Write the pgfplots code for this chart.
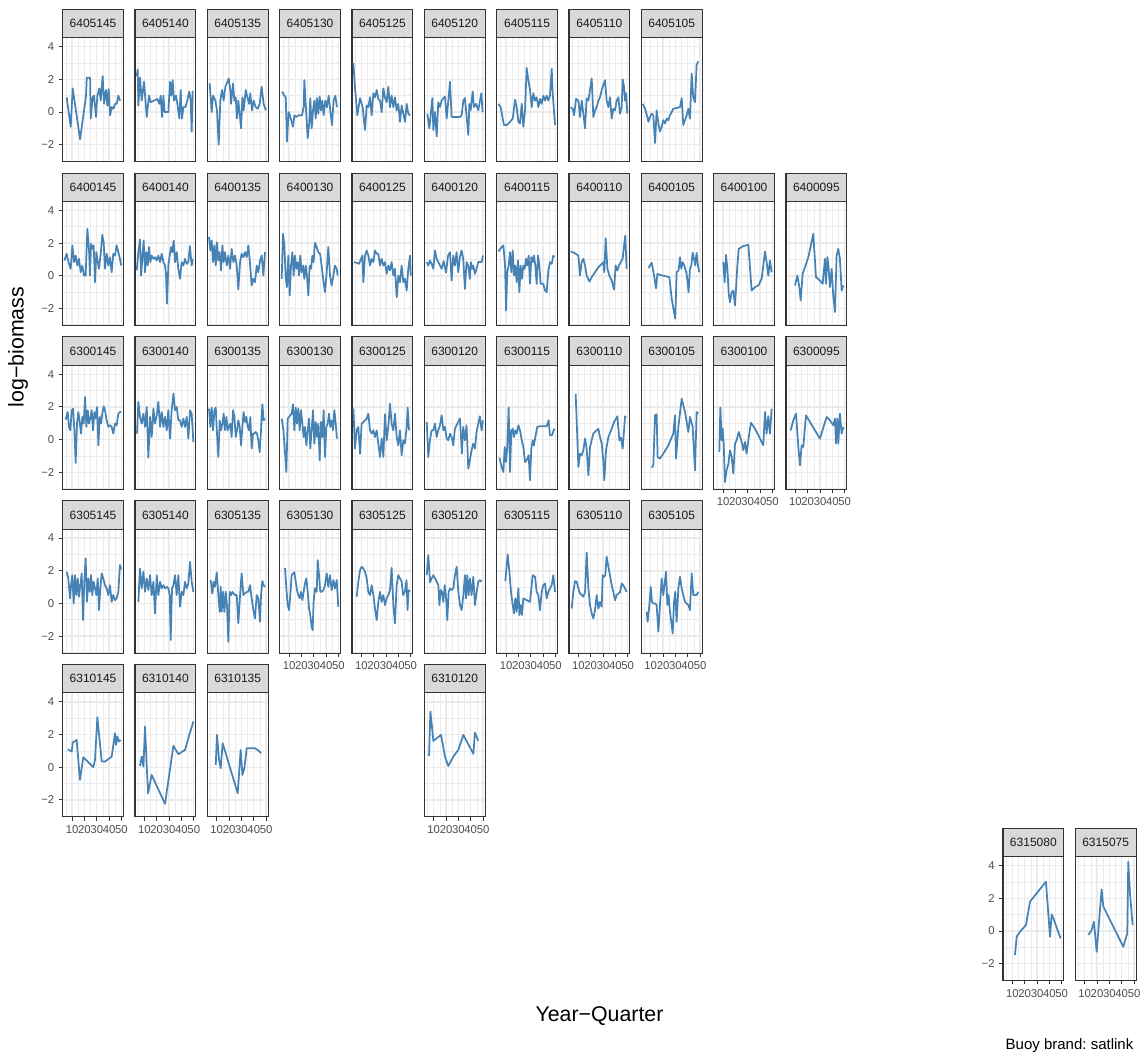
\documentclass[border=0pt]{standalone}
\usepackage{fontspec}
\setmainfont{Liberation Sans}
\usepackage{pgfplots}
\pgfplotsset{compat=1.18}
\frenchspacing
\definecolor{grey10}{HTML}{1A1A1A}
\definecolor{grey20}{HTML}{333333}
\definecolor{grey30}{HTML}{4D4D4D}
\definecolor{grey85}{HTML}{D9D9D9}
\definecolor{grey92}{HTML}{EBEBEB}
\definecolor{steelblue}{HTML}{4682B4}
\newcommand{\tlfont}{\fontsize{8.5}{9}\selectfont}
\newcommand{\stfont}{\fontsize{9}{10}\selectfont}
\pgfplotsset{
 fpanel/.style={
  width=45.525pt, height=93pt, scale only axis, anchor=north west,
  xmin=2.4, xmax=51.6, ymin=-3.04, ymax=4.55,
  xtick={10,20,30,40,50}, ytick={-2,0,2,4},
  minor xtick={5,15,25,35,45}, minor ytick={-3,-1,1,3},
  grid=both,
  major grid style={draw=grey92, line width=1.1pt},
  minor grid style={draw=grey92, line width=0.55pt},
  axis line style={draw=grey20, line width=0.8pt},
  tick align=outside, tick pos=left,
  major tick length=2.8pt, minor tick length=0pt,
  tick style={draw=grey20, line width=0.8pt},
  xticklabels={}, yticklabels={},
  xmajorticks=false, ymajorticks=false,
  tick label style={font=\tlfont, text=grey30},
 },
 showx/.style={xticklabels={10,20,30,40,50}, xmajorticks=true},
 showy/.style={yticklabels={−2,0,2,4}, ymajorticks=true},
}
\newcommand{\panel}[5]{%
 \pgfmathsetmacro{\pX}{(62.7+(#1-1)*72.33)*0.75}%
 \pgfmathsetmacro{\pY}{-(37.7+(#2-1)*163.8)*0.75}%
 \begin{axis}[fpanel, at={(\pX pt,\pY pt)}, #4,
   extra description/.code={%
     \draw[fill=grey85,draw=grey20,line width=0.8pt] (axis description cs:0,1) rectangle ([yshift=21.3pt]axis description cs:1,1);
     \node[font=\stfont,text=grey10] at ([yshift=10.65pt]axis description cs:0.5,1) {#3};}]
 \addplot[steelblue,line width=1.3pt,line join=round,mark=none] coordinates {#5};
 \end{axis}}
\begin{document}
\begin{tikzpicture}
\useasboundingbox (0,0) rectangle (858.75pt,-792pt);
% Row 1
\panel{1}{1}{6405145}{showy}{(5.6,0.9)(8.9,-0.9)(10.5,1.45)(16.5,-1.67)(21.3,1.0)(21.9,2.1)(24.6,2.1)(25.1,-0.4)(26.7,0.9)(27.8,1.0)(29.4,-0.3)(30.5,1.0)(32.1,1.45)(33.2,0.7)(34.8,2.2)(35.9,0.5)(37.5,1.35)(38.6,0.4)(39.7,1.4)(40.8,-0.2)(42.1,0.3)(43.5,0.2)(44.8,0.5)(46.2,0.5)(47.5,1.0)(48.9,0.7)}
\panel{2}{1}{6405140}{}{(3.75,2.2)(4.6,2.6)(5.1,0.4)(6.5,2.1)(7.8,0.7)(9.7,1.85)(11.9,-0.3)(13.7,1.0)(15.1,0.6)(17.8,0.7)(20.5,0.8)(22.1,0.5)(23.2,1.0)(24.3,-0.3)(25.4,1.0)(26.4,0.0)(28.1,0.0)(29.4,0.0)(30.8,1.85)(31.8,1.0)(32.9,1.95)(34.0,0.7)(35.6,1.0)(36.7,0.5)(38.3,-0.4)(39.4,1.35)(40.5,-0.4)(41.6,0.3)(43.2,0.3)(44.8,0.7)(46.4,1.25)(47.5,0.7)(48.3,-1.2)(49.1,1.3)}
\panel{3}{1}{6405135}{}{(4.3,1.75)(5.9,0.0)(7.0,1.0)(8.9,0.7)(10.2,0.1)(11.6,-2.0)(12.9,0.7)(14.3,1.35)(15.6,0.7)(17.0,1.55)(19.7,2.05)(21.0,1.35)(21.6,0.5)(23.2,1.75)(24.3,0.7)(25.4,0.9)(26.4,-0.4)(27.5,0.7)(28.6,-0.1)(29.7,-1.0)(30.8,0.9)(31.8,0.1)(33.5,1.35)(34.5,1.0)(36.2,0.5)(37.2,1.15)(38.6,0.1)(39.9,0.7)(41.6,0.3)(43.2,0.2)(44.8,0.5)(46.4,1.55)(48.0,0.5)(49.8,0.1)}
\panel{4}{1}{6405130}{}{(4.3,1.25)(6.2,1.0)(7.3,0.9)(8.3,-1.8)(9.7,0.0)(11.0,-0.3)(13.2,-0.9)(14.3,-0.2)(15.9,-0.3)(17.8,-0.2)(20.5,-0.2)(21.8,0.3)(22.4,1.95)(24.0,-0.2)(25.1,-1.6)(26.2,-0.8)(27.2,0.85)(28.3,-1.0)(29.4,0.1)(30.5,0.7)(31.6,-0.4)(32.6,0.85)(33.7,-0.1)(34.8,0.95)(35.9,0.1)(37.0,0.7)(38.0,-0.2)(39.4,0.7)(40.7,0.3)(42.1,1.0)(43.4,0.1)(44.8,-0.8)(46.1,0.7)(47.5,1.0)(48.8,0.3)}
\panel{5}{1}{6405125}{}{(3.5,3.0)(4.8,1.5)(6.7,-0.2)(8.9,0.85)(11.0,0.3)(12.9,-1.1)(14.3,0.4)(15.6,0.3)(17.0,0.9)(18.3,-0.2)(19.7,1.15)(21.0,0.9)(22.4,1.35)(23.7,0.8)(25.1,0.7)(26.4,0.0)(27.8,1.45)(29.1,0.9)(30.5,0.6)(31.8,1.55)(33.2,0.3)(34.5,1.0)(35.9,0.3)(37.2,0.9)(38.6,0.1)(39.9,0.5)(41.3,-0.6)(42.6,0.4)(44.0,-0.1)(45.3,-0.6)(46.7,0.5)(48.0,-0.1)(49.4,-0.2)}
\panel{6}{1}{6405120}{}{(4.8,-0.1)(6.5,-1.0)(7.5,-0.2)(8.9,0.85)(9.7,-1.1)(11.0,0.0)(12.4,-1.5)(13.7,0.6)(15.1,0.3)(16.4,0.7)(17.8,0.85)(19.1,0.95)(20.5,-0.4)(23.2,1.85)(24.5,-0.3)(27.2,-0.3)(31.3,-0.3)(32.6,-0.2)(34.0,0.7)(35.3,0.85)(36.7,-0.3)(38.0,-1.4)(38.9,0.5)(39.9,0.1)(41.6,1.25)(42.6,0.3)(44.3,0.5)(46.1,0.1)(47.5,0.7)(48.6,1.15)(49.6,0.0)}
\panel{7}{1}{6405115}{}{(3.8,0.5)(5.6,0.3)(7.3,-0.4)(8.3,-0.8)(10.5,-0.8)(13.2,-0.6)(15.4,-0.4)(17.3,0.75)(18.6,0.3)(20.0,-0.6)(21.3,-0.7)(22.7,0.5)(24.0,-0.9)(25.4,0.1)(26.7,2.7)(28.1,1.95)(29.4,1.35)(30.8,0.3)(32.1,1.15)(33.5,0.7)(34.8,0.9)(36.2,0.3)(37.5,0.8)(38.9,0.5)(40.2,1.0)(41.6,0.7)(42.9,1.0)(44.3,0.7)(45.6,1.0)(47.0,2.65)(47.8,1.15)(48.8,0.1)(49.7,-0.8)}
\panel{8}{1}{6405110}{}{(3.8,0.3)(5.4,0.2)(6.5,-0.2)(8.1,0.8)(10.0,0.7)(11.3,-0.3)(12.7,0.7)(14.0,-0.1)(15.4,-1.0)(16.7,0.85)(18.1,0.7)(19.4,1.35)(20.8,2.05)(22.1,-0.3)(23.5,0.1)(24.8,0.3)(26.2,0.7)(27.5,0.9)(28.9,1.35)(31.6,1.95)(32.9,0.7)(34.3,0.3)(35.6,0.9)(37.0,-0.4)(38.3,0.2)(39.7,0.1)(41.0,0.7)(42.4,0.9)(43.7,-0.1)(45.1,0.3)(45.9,2.0)(47.0,1.55)(47.8,0.7)(48.6,1.15)(49.7,-0.1)}
\panel{9}{1}{6405105}{}{(3.5,0.5)(5.4,0.2)(7.3,-0.3)(8.1,-0.6)(9.4,-0.3)(10.8,-0.1)(12.1,-0.2)(13.5,-1.9)(14.8,0.1)(16.2,-0.7)(17.5,-1.2)(18.9,-0.9)(20.2,-0.5)(21.6,-0.7)(22.9,-0.4)(24.3,-0.5)(25.6,-0.2)(28.3,0.2)(33.7,0.3)(35.1,0.85)(36.4,-0.8)(37.8,-0.5)(39.1,-0.2)(40.5,0.2)(41.8,-0.4)(43.2,2.35)(44.5,0.9)(45.9,0.6)(47.2,2.9)(48.6,3.1)}
% Row 2
\panel{1}{2}{6400145}{showy}{(3.75,0.94)(5.6,1.35)(7.5,0.73)(8.9,0.43)(10.2,1.86)(11.6,0.84)(12.9,1.24)(14.3,0.63)(15.6,1.04)(17.0,0.22)(18.3,0.63)(19.7,0.02)(21.0,0.02)(22.4,2.88)(23.7,1.65)(24.5,0.02)(25.4,1.96)(26.4,1.65)(27.5,1.86)(28.6,-0.39)(29.7,1.45)(30.8,0.84)(31.8,0.43)(33.2,1.35)(34.5,2.51)(35.6,2.06)(36.7,0.43)(38.0,1.35)(39.4,0.63)(40.7,1.14)(42.1,0.22)(43.4,1.35)(44.8,1.24)(46.1,1.86)(47.5,1.45)(48.8,1.04)(49.8,0.63)}
\panel{2}{2}{6400140}{}{(3.75,0.33)(5.1,1.45)(6.45,2.22)(7.3,0.02)(8.3,1.04)(9.4,2.16)(10.5,0.22)(11.6,1.45)(12.7,0.63)(13.7,1.76)(14.8,0.84)(15.9,1.24)(17.3,1.04)(18.6,1.14)(20.0,0.94)(21.3,1.24)(22.7,0.84)(24.0,1.35)(25.4,0.84)(26.7,0.63)(27.5,0.12)(28.3,-1.71)(29.4,0.63)(30.5,1.24)(31.6,1.76)(32.6,1.45)(33.7,2.16)(34.8,0.84)(36.2,1.45)(37.5,0.43)(38.9,-0.18)(40.2,0.84)(41.6,0.63)(42.9,1.04)(44.3,0.73)(45.6,0.84)(46.9,1.82)(48.3,0.63)(49.1,1.04)}
\panel{3}{2}{6400135}{}{(3.75,2.37)(4.8,1.55)(5.9,2.16)(7.0,0.84)(8.1,1.86)(9.2,0.63)(10.2,2.06)(11.3,0.94)(12.4,1.45)(13.5,0.33)(14.6,1.86)(15.6,0.84)(16.7,1.45)(18.1,0.63)(19.4,1.24)(20.8,0.43)(22.1,1.65)(23.5,0.84)(24.8,1.24)(26.2,0.63)(27.5,-0.84)(28.9,0.84)(30.2,1.35)(31.6,1.14)(32.9,1.45)(34.3,1.14)(35.6,1.86)(37.0,0.73)(38.3,-0.59)(39.7,-0.18)(41.0,-0.39)(42.4,0.63)(43.7,0.22)(45.1,0.94)(46.4,1.24)(47.8,0.02)(49.1,1.45)}
\panel{4}{2}{6400130}{}{(4.0,-0.18)(5.1,2.57)(6.2,1.86)(7.3,-0.18)(8.3,-0.69)(9.4,1.24)(10.5,-1.20)(11.6,0.63)(12.7,1.45)(13.7,0.02)(14.8,1.24)(15.9,0.43)(17.0,0.84)(18.1,0.02)(19.1,1.24)(20.2,0.22)(21.3,0.63)(22.4,-0.18)(23.5,0.63)(24.5,0.02)(25.6,-1.20)(26.7,0.63)(27.8,0.43)(28.9,1.24)(29.9,0.84)(31.0,2.02)(32.4,1.76)(33.7,1.45)(35.1,1.35)(36.4,0.63)(37.8,-0.29)(39.1,-1.00)(40.5,0.22)(41.8,1.76)(43.2,0.02)(44.5,-0.59)(45.9,0.02)(47.2,0.63)(48.6,0.43)(49.4,0.02)}
\panel{5}{2}{6400125}{}{(4.0,0.84)(6.2,0.80)(8.1,0.73)(9.7,1.04)(10.8,1.24)(11.6,-0.39)(12.9,1.24)(14.3,1.55)(15.6,1.24)(17.0,0.63)(18.3,1.04)(19.7,0.84)(21.0,1.55)(22.4,1.35)(23.7,1.35)(25.1,0.63)(26.4,1.04)(27.8,0.63)(29.1,0.84)(30.5,0.12)(31.8,0.63)(33.2,0.33)(34.5,0.84)(35.9,0.02)(37.2,0.43)(38.6,-1.31)(39.9,0.02)(41.3,-0.39)(42.6,0.63)(44.0,-0.39)(45.3,-0.18)(46.7,-0.90)(48.0,0.43)(49.4,1.24)(50.0,0.02)}
\panel{6}{2}{6400120}{}{(4.3,0.84)(5.6,0.63)(7.0,0.94)(8.3,0.73)(9.7,0.43)(11.0,1.55)(12.4,1.04)(13.7,0.84)(15.1,0.63)(16.4,0.43)(18.0,0.9)(20.0,0.2)(21.5,1.2)(23.2,1.45)(24.5,-0.29)(25.8,1.24)(27.2,0.63)(28.5,1.45)(29.9,0.22)(31.2,1.14)(32.6,1.55)(33.9,1.04)(35.3,-0.80)(36.6,0.84)(38.0,0.63)(39.3,-0.18)(40.1,0.84)(41.2,0.43)(42.0,0.63)(43.4,0.12)(44.7,0.43)(46.1,0.84)(47.4,0.84)(48.8,0.84)(49.9,1.24)}
\panel{7}{2}{6400115}{}{(3.75,1.49)(6.45,1.76)(7.8,1.86)(9.2,0.63)(10.0,-2.12)(11.0,0.22)(12.1,0.63)(13.2,1.45)(14.3,0.22)(15.4,1.55)(16.4,0.02)(17.5,0.63)(18.6,-0.39)(19.7,0.94)(20.8,-1.00)(21.8,0.63)(22.9,-0.18)(24.0,0.63)(25.1,0.43)(26.2,1.04)(27.2,0.63)(28.3,1.24)(29.4,-0.49)(30.5,1.14)(31.6,0.84)(32.6,1.24)(33.7,0.63)(34.8,-0.49)(35.9,1.24)(37.0,0.63)(38.0,-0.49)(39.1,-0.49)(40.2,-0.49)(41.6,-0.90)(42.9,-1.00)(44.3,0.33)(45.6,0.84)(47.0,0.73)(48.3,1.24)(49.1,1.14)}
\panel{8}{2}{6400110}{}{(3.75,1.49)(6.45,1.41)(10.0,1.24)(11.3,0.02)(12.7,0.84)(14.0,1.04)(15.4,0.63)(16.7,0.02)(18.9,-0.35)(20.8,-0.08)(23.5,0.22)(26.2,0.53)(28.9,0.73)(30.2,0.84)(31.0,0.22)(32.1,2.31)(33.5,0.43)(35.1,0.02)(37.0,-0.29)(38.9,-0.84)(40.2,0.63)(41.6,0.33)(42.9,0.63)(44.3,0.84)(45.9,1.04)(47.0,1.86)(48.0,2.47)(49.1,0.43)}
\panel{9}{2}{6400105}{}{(8.1,0.47)(10.8,0.80)(12.7,0.02)(14.3,-0.76)(15.4,0.12)(17.5,0.06)(21.6,-0.02)(25.1,-0.08)(27.0,-1.41)(28.9,-2.22)(29.9,-2.63)(31.0,0.22)(32.6,0.33)(33.7,1.14)(34.8,0.43)(35.9,0.84)(37.2,0.63)(39.1,0.12)(40.7,-1.00)(41.8,0.43)(42.9,0.63)(44.0,1.41)(45.1,1.04)(46.1,0.63)(47.2,1.41)(48.3,0.63)(49.4,0.22)}
\panel{10}{2}{6400100}{}{(10.2,0.84)(11.3,-0.39)(12.4,1.29)(13.5,0.43)(14.6,-1.10)(15.6,-1.61)(17.0,-1.00)(18.3,-0.90)(19.7,-1.82)(20.5,-0.80)(21.6,0.63)(22.7,1.65)(26.4,1.82)(30.5,1.90)(33.2,-0.90)(35.9,-0.69)(38.6,-0.59)(41.3,-0.18)(44.0,1.49)(45.3,0.84)(46.7,0.02)(48.0,0.94)(49.4,0.22)}
\panel{11}{2}{6400095}{}{(9.7,-0.59)(11.6,0.02)(13.2,-0.69)(14.3,-1.51)(15.9,0.12)(20.5,1.14)(24.5,2.57)(26.7,-0.08)(29.9,-0.29)(32.1,-0.49)(34.0,1.04)(34.8,-0.49)(35.9,1.14)(36.7,0.73)(38.0,-0.69)(39.4,0.43)(40.7,-1.20)(42.1,-2.22)(43.4,1.24)(44.8,1.65)(46.1,1.04)(47.5,-0.90)(48.8,-0.59)}
% Row 3
\panel{1}{3}{6300145}{showy}{(4.8,1.22)(6.45,1.69)(7.5,0.78)(8.6,0.57)(9.7,1.80)(10.8,1.90)(11.9,0.57)(12.9,-1.43)(14.0,0.98)(15.1,1.69)(16.2,1.08)(17.3,0.37)(18.3,1.39)(19.4,0.98)(20.5,2.61)(21.6,0.78)(22.7,1.80)(23.7,0.98)(24.8,1.29)(25.9,1.80)(27.0,0.57)(28.1,1.69)(29.1,1.29)(30.2,2.00)(31.3,-0.35)(32.4,1.39)(33.5,0.98)(34.5,1.59)(35.6,2.04)(36.7,1.80)(38.0,1.18)(39.4,0.78)(40.7,0.88)(42.1,0.78)(43.4,0.37)(44.8,0.98)(46.1,0.88)(47.5,1.59)(48.8,1.69)(49.8,1.69)}
\panel{2}{3}{6300140}{}{(4.0,0.37)(5.1,2.31)(6.45,1.39)(7.8,0.98)(9.2,1.59)(10.5,0.78)(11.9,2.00)(13.2,-1.10)(14.6,1.39)(15.9,0.16)(17.3,1.90)(18.6,0.98)(20.0,1.49)(21.3,2.31)(22.7,0.78)(24.0,1.69)(25.4,0.78)(26.7,1.39)(28.1,0.57)(29.4,1.80)(30.8,0.06)(32.1,1.80)(33.5,2.82)(34.8,1.80)(36.2,2.00)(37.5,1.18)(38.9,1.18)(40.2,0.78)(41.6,1.29)(42.9,0.78)(44.3,1.39)(45.6,0.06)(47.0,1.80)(48.3,1.59)(49.7,-0.14)}
\panel{3}{3}{6300135}{}{(3.75,1.90)(4.8,0.78)(5.9,1.96)(7.0,0.57)(8.1,1.80)(9.2,1.96)(10.2,0.37)(11.3,-1.06)(12.4,1.18)(13.5,0.57)(14.6,0.98)(15.6,1.59)(16.7,0.57)(17.8,1.39)(18.9,0.57)(19.9,0.78)(21.0,0.98)(22.1,0.16)(23.2,1.80)(24.3,1.39)(25.4,0.16)(26.4,0.57)(27.5,1.18)(28.6,0.78)(29.7,-0.35)(30.8,0.78)(31.8,1.69)(32.9,1.08)(34.0,1.39)(35.1,0.78)(36.2,0.57)(37.2,1.39)(38.3,-0.55)(39.4,0.37)(40.5,0.37)(41.6,0.47)(42.6,0.37)(43.7,-0.04)(44.8,-0.76)(45.9,0.57)(47.0,2.16)(48.0,1.18)(49.1,1.29)}
\panel{4}{3}{6300130}{}{(4.0,1.29)(5.4,0.57)(6.7,-0.76)(7.8,-1.98)(8.9,1.29)(10.0,1.39)(11.0,1.49)(12.1,1.59)(13.2,2.16)(14.3,0.57)(15.4,1.96)(16.4,0.98)(17.5,1.90)(18.6,0.57)(19.7,1.80)(20.8,0.98)(21.8,0.16)(22.9,0.78)(24.0,-0.35)(25.1,0.57)(26.2,1.29)(27.2,-0.55)(28.3,0.57)(29.4,1.80)(30.5,-0.24)(31.6,1.08)(32.6,0.16)(33.7,0.98)(34.8,-1.27)(35.9,1.08)(37.0,0.16)(38.0,1.80)(39.1,-1.06)(40.2,0.78)(41.3,0.98)(42.4,1.59)(43.4,0.78)(44.5,1.18)(45.6,0.57)(46.7,1.80)(47.8,0.98)(48.8,0.06)}
\panel{5}{3}{6300125}{}{(3.5,1.90)(4.8,-0.55)(6.2,0.57)(7.5,0.78)(8.9,-0.86)(10.2,0.98)(11.6,1.08)(12.9,1.18)(14.3,1.29)(15.6,1.59)(17.0,0.57)(18.3,0.37)(19.7,0.57)(21.0,0.16)(22.4,0.57)(23.7,-0.24)(25.1,-1.06)(26.4,0.06)(27.8,-1.06)(29.1,1.55)(30.5,-0.04)(31.8,0.78)(33.2,2.20)(34.5,0.98)(35.9,0.57)(37.2,1.59)(38.6,0.16)(39.9,-0.35)(41.3,0.57)(42.6,-0.96)(44.0,-0.04)(45.3,-0.24)(46.7,0.78)(47.5,1.96)(48.6,0.57)}
\panel{6}{3}{6300120}{}{(4.3,1.08)(5.6,-1.06)(7.0,0.0)(8.3,0.57)(9.7,0.57)(11.0,0.98)(12.4,0.16)(13.7,0.57)(15.1,0.88)(16.4,1.49)(17.8,0.57)(19.1,0.78)(20.5,0.06)(21.8,-0.04)(23.2,0.37)(24.5,0.16)(25.8,-0.35)(27.2,0.67)(28.5,0.88)(29.9,1.08)(31.2,1.29)(32.0,0.37)(32.8,-0.86)(33.9,0.78)(35.3,-0.04)(36.6,0.88)(38.0,-1.78)(39.3,-1.27)(40.7,-0.65)(42.0,-0.24)(43.4,-0.55)(44.7,0.47)(46.1,0.98)(47.4,1.43)(48.8,0.57)(49.8,1.18)}
\panel{7}{3}{6300115}{}{(4.6,-1.10)(6.45,-1.67)(7.8,-1.98)(8.9,-0.45)(10.0,-1.37)(11.0,-0.35)(12.1,1.96)(13.2,-1.98)(14.3,0.57)(15.4,0.67)(16.4,0.16)(17.5,0.57)(18.6,0.37)(20.0,0.88)(21.3,0.57)(22.7,-0.04)(24.0,-0.45)(25.4,-1.37)(26.7,-1.27)(28.3,-0.96)(29.4,-2.49)(30.5,-0.55)(31.6,-0.04)(32.6,-0.35)(33.7,0.16)(35.3,0.78)(37.5,0.82)(40.2,0.82)(42.9,0.82)(44.5,1.18)(45.6,0.27)(47.2,0.27)(49.1,0.67)}
\panel{8}{3}{6300110}{}{(7.8,2.78)(10.0,-1.67)(11.3,-0.86)(12.7,-0.96)(14.0,-0.65)(15.4,0.06)(16.7,-0.55)(18.1,-2.18)(19.4,-0.45)(22.1,0.37)(24.8,0.57)(26.2,0.67)(27.5,0.16)(28.9,-0.24)(30.2,-1.27)(31.0,-2.49)(32.4,-0.65)(34.3,0.16)(37.0,0.67)(38.9,1.08)(41.6,1.43)(43.2,-0.04)(44.5,0.12)(45.9,-0.55)(47.0,0.57)(47.8,1.43)(48.6,1.35)}
\panel{9}{3}{6300105}{}{(10.8,-1.71)(12.1,-1.57)(13.5,1.49)(14.8,1.55)(15.6,-1.06)(17.5,-1.16)(20.2,-0.86)(24.3,-0.35)(28.3,0.37)(29.7,1.49)(30.5,-1.16)(32.4,0.78)(35.1,2.51)(37.8,1.69)(40.5,0.47)(41.8,1.39)(44.0,0.78)(45.9,-1.88)(47.2,1.69)(48.6,1.59)}
\panel{10}{3}{6300100}{showx}{(7.0,-0.76)(7.8,1.96)(8.9,-0.04)(9.7,0.67)(10.5,-0.24)(11.6,-2.59)(12.9,-1.88)(14.3,-1.47)(15.6,-0.65)(17.0,-1.06)(18.3,-2.08)(19.7,-0.24)(21.0,-0.04)(22.7,0.47)(24.3,0.06)(25.4,-0.24)(26.4,-0.65)(27.8,-0.14)(29.1,-0.86)(30.5,-0.04)(32.6,1.04)(35.9,0.67)(38.6,0.27)(42.6,-0.35)(44.0,1.69)(45.3,0.37)(46.7,1.43)(48.0,0.37)(49.4,1.90)}
\panel{11}{3}{6300095}{showx}{(6.2,0.57)(8.3,1.18)(10.5,1.59)(12.4,-0.45)(13.7,-1.57)(15.1,-0.35)(16.4,-0.45)(18.6,1.49)(21.8,1.08)(25.9,0.57)(29.9,0.06)(35.3,1.39)(38.0,1.18)(40.7,0.88)(42.1,1.29)(42.9,-0.24)(44.0,1.29)(44.8,-0.24)(46.1,1.59)(47.5,0.37)(48.8,0.78)}
% Row 4
\panel{1}{4}{6305145}{showy}{(5.6,1.94)(7.0,1.53)(8.3,0.31)(9.2,1.12)(10.2,1.73)(11.3,0.0)(12.4,1.73)(13.5,0.51)(14.6,1.53)(15.6,0.41)(16.7,1.12)(17.8,1.84)(18.9,-1.02)(19.9,1.33)(21.0,2.76)(22.1,0.10)(23.2,1.53)(24.3,0.71)(25.4,1.73)(26.4,0.51)(27.5,1.33)(28.6,0.92)(29.7,0.51)(30.8,1.53)(31.8,-0.41)(32.9,0.92)(34.0,1.84)(35.3,1.53)(36.7,1.12)(38.0,0.92)(39.4,0.51)(40.7,1.12)(42.1,0.10)(43.4,0.51)(44.8,0.20)(46.1,0.31)(47.5,0.71)(48.8,2.35)(49.8,2.10)}
\panel{2}{4}{6305140}{}{(5.1,0.10)(6.45,2.14)(7.8,0.92)(9.2,1.94)(10.5,0.71)(11.9,1.53)(13.2,0.82)(14.6,1.73)(15.9,0.51)(17.3,1.33)(18.6,-0.61)(20.0,1.73)(21.3,0.51)(22.7,1.33)(24.0,0.92)(25.4,1.12)(26.7,0.92)(28.1,1.02)(29.4,0.92)(30.5,0.51)(31.3,-2.24)(32.4,0.92)(33.5,1.12)(34.8,1.73)(36.2,0.51)(37.5,1.73)(38.9,-0.20)(40.2,0.71)(41.6,0.51)(42.9,1.33)(44.3,0.92)(45.6,1.22)(47.0,2.55)(48.3,1.33)(49.7,0.71)}
\panel{3}{4}{6305135}{}{(5.1,1.43)(6.45,0.61)(7.5,1.33)(8.6,1.02)(10.0,1.90)(11.3,0.51)(12.4,-0.51)(13.2,1.02)(14.0,-0.51)(15.1,0.71)(16.2,-0.51)(17.3,0.71)(18.3,-0.10)(19.4,-2.35)(20.5,0.71)(21.6,0.51)(22.7,0.71)(23.7,0.61)(24.8,0.51)(26.2,0.51)(27.5,-1.22)(28.9,0.51)(30.2,1.84)(31.6,0.51)(32.9,0.61)(34.3,0.71)(35.6,0.71)(37.0,1.12)(38.3,0.31)(39.7,-0.41)(41.0,-0.92)(42.4,0.51)(43.7,0.31)(45.1,-1.12)(45.9,0.51)(47.0,1.37)(48.0,1.12)(49.1,1.02)}
\panel{4}{4}{6305130}{showx}{(6.7,2.18)(7.8,0.92)(8.9,-0.10)(10.0,-0.41)(11.0,0.51)(12.1,1.73)(13.2,1.84)(14.3,1.90)(15.4,1.33)(16.4,0.82)(17.5,0.51)(18.6,0.31)(19.7,0.71)(20.8,0.20)(21.8,0.71)(22.9,1.22)(24.0,1.53)(25.1,0.71)(26.2,-0.31)(27.2,-0.71)(28.3,-1.43)(29.1,-1.63)(29.9,0.10)(31.0,0.92)(32.4,0.71)(33.2,2.65)(34.3,1.73)(35.3,0.71)(36.4,0.71)(37.8,0.82)(39.1,1.12)(40.5,1.84)(41.8,1.02)(43.2,1.73)(44.5,0.82)(45.9,1.43)(47.2,0.92)(48.6,1.43)(49.9,-0.20)}
\panel{5}{4}{6305125}{showx}{(6.2,0.41)(7.5,1.33)(8.9,2.04)(10.2,2.24)(11.6,2.14)(12.9,1.94)(14.3,1.53)(15.6,0.71)(17.0,0.51)(18.3,1.12)(19.7,0.51)(21.0,-0.31)(22.4,-1.02)(23.7,0.10)(25.1,0.71)(26.4,0.10)(27.8,0.51)(29.1,-0.10)(30.5,0.31)(31.8,0.51)(33.2,0.82)(34.5,2.18)(35.9,-0.10)(37.2,-1.22)(38.6,1.12)(39.9,1.73)(41.3,1.53)(42.6,1.33)(43.9,0.51)(45.3,0.71)(46.6,1.43)(47.4,-0.41)(48.2,0.82)(49.3,0.71)}
\panel{6}{4}{6305120}{}{(4.3,1.73)(5.6,2.96)(7.0,1.29)(8.3,1.53)(9.7,1.73)(11.0,1.53)(12.4,1.33)(13.7,1.12)(14.6,-0.10)(15.6,0.82)(16.7,0.71)(17.8,0.10)(18.9,1.12)(19.9,0.51)(21.0,-1.02)(22.1,0.71)(23.2,0.92)(24.5,0.82)(25.9,0.92)(27.2,1.73)(28.6,2.24)(29.9,0.71)(31.3,-0.10)(32.6,-0.41)(34.0,0.51)(35.3,1.73)(36.2,0.31)(37.2,1.73)(38.3,0.51)(39.4,1.53)(40.7,0.51)(42.1,1.63)(43.4,-0.10)(44.8,0.71)(46.1,1.33)(47.5,1.43)(48.8,1.33)}
\panel{7}{4}{6305115}{showx}{(9.4,1.37)(11.3,3.00)(12.7,1.94)(14.0,0.71)(15.4,-0.10)(16.4,-0.61)(17.5,0.31)(18.6,-0.51)(20.0,0.92)(20.8,-0.71)(21.8,-0.10)(22.9,-0.71)(24.0,0.31)(26.7,0.20)(29.4,0.10)(31.6,1.73)(33.5,1.63)(34.8,0.71)(36.2,0.51)(37.5,-0.41)(38.9,0.71)(40.2,1.12)(41.6,1.22)(42.9,0.31)(44.3,0.71)(45.6,0.92)(47.0,1.12)(48.3,1.73)(49.7,0.71)}
\panel{8}{4}{6305110}{showx}{(4.6,-0.31)(5.9,0.71)(7.3,1.37)(8.6,1.33)(10.0,0.92)(11.3,0.61)(12.7,0.51)(14.0,0.41)(15.4,0.71)(16.7,3.12)(18.1,0.92)(19.4,-0.10)(20.8,-0.61)(22.1,-0.92)(23.5,-0.41)(24.8,0.51)(26.2,-0.31)(27.5,0.10)(28.9,-0.20)(29.7,1.73)(30.8,1.63)(31.8,1.73)(32.9,2.86)(34.3,2.24)(35.6,1.73)(37.0,1.12)(38.3,0.71)(39.7,0.20)(41.0,0.51)(42.4,0.61)(43.7,0.67)(45.1,1.22)(46.4,1.12)(47.8,0.92)(49.1,0.71)}
\panel{9}{4}{6305105}{showx}{(6.7,-0.51)(7.5,-1.12)(8.9,-0.10)(10.0,1.02)(11.0,0.10)(12.1,0.0)(13.5,0.0)(14.8,-0.10)(16.2,-1.73)(17.5,-0.10)(18.9,1.53)(20.2,0.51)(21.6,1.43)(22.4,1.94)(23.5,-0.10)(24.5,0.51)(25.6,-0.51)(27.0,-1.33)(27.8,-1.84)(28.9,0.10)(29.9,0.71)(31.0,-1.12)(32.4,0.92)(33.7,1.63)(35.1,0.92)(36.4,0.51)(37.8,0.10)(39.1,0.0)(40.5,-0.10)(41.8,-0.41)(43.2,1.84)(44.5,0.51)(45.9,0.51)(47.2,0.51)(48.6,0.71)}
% Row 5
\panel{1}{5}{6310145}{showx,showy}{(6.45,1.10)(9.7,0.96)(10.5,1.51)(13.7,1.67)(16.4,-0.78)(19.1,0.61)(27.2,0.0)(28.6,0.45)(30.5,3.06)(34.0,0.35)(36.7,0.35)(42.1,0.65)(44.8,2.08)(45.6,1.37)(46.7,1.88)(48.0,1.57)(49.4,1.67)}
\panel{2}{5}{6310140}{showx}{(6.45,0.08)(7.8,0.65)(9.2,0.04)(10.5,2.49)(11.9,0.04)(13.0,-1.59)(15.9,-0.47)(26.7,-2.24)(33.5,1.31)(37.5,0.80)(42.9,1.06)(45.6,1.78)(49.7,2.80)}
\panel{3}{5}{6310135}{showx}{(9.2,0.14)(10.2,1.98)(11.9,0.45)(13.2,-0.06)(14.8,1.47)(27.0,-1.59)(29.4,1.06)(30.8,-0.47)(32.4,-0.06)(34.3,1.16)(41.0,1.16)(43.2,1.06)(45.9,0.86)}
\panel{6}{5}{6310120}{showx}{(6.2,0.69)(7.3,3.41)(9.7,1.61)(15.9,1.98)(19.1,0.65)(21.8,0.08)(25.9,0.65)(29.9,1.06)(34.0,1.98)(42.1,0.82)(43.4,2.12)(46.1,1.61)}
% Row 6
\panel{14}{6}{6315080}{showx,showy}{(12.1,-1.47)(13.5,-0.35)(16.2,-0.04)(21.0,0.37)(24.3,1.80)(37.2,3.02)(40.5,-0.35)(41.8,1.02)(43.2,0.78)(49.1,-0.45)}
\panel{15}{6}{6315075}{showx}{(12.9,-0.24)(15.6,0.06)(17.5,0.57)(19.7,-1.27)(23.7,2.55)(25.1,1.49)(41.3,-0.96)(44.5,-0.14)(45.3,4.24)(46.7,2.31)(48.8,0.37)}
% titles
\node[font=\fontsize{16}{19}\selectfont, anchor=base] at (449.6pt,-766.3pt) {Year−Quarter};
\node[font=\fontsize{16}{19}\selectfont, rotate=90] at (13.5pt,-260.25pt) {log−biomass};
\node[font=\fontsize{11.25}{13}\selectfont, anchor=base east] at (853.5pt,-786.75pt) {Buoy brand: satlink};
\end{tikzpicture}
\end{document}
